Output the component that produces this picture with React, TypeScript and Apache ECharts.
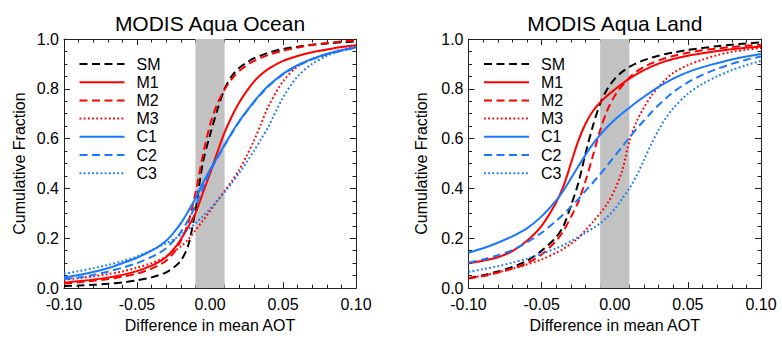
import React, { useEffect, useRef } from "react";
import * as echarts from "echarts";

// x grid (Difference in mean AOT)
const X = [-0.1, -0.09, -0.08, -0.07, -0.06, -0.05, -0.04, -0.035, -0.03, -0.025, -0.02, -0.015, -0.01, -0.005, 0, 0.005, 0.01, 0.015, 0.02, 0.025, 0.03, 0.035, 0.04, 0.05, 0.06, 0.07, 0.08, 0.09, 0.1];

const NAMES = ["SM", "M1", "M2", "M3", "C1", "C2", "C3"];
const TITLES = ["MODIS Aqua Ocean", "MODIS Aqua Land"];
const X_TITLE = "Difference in mean AOT";
const Y_TITLE = "Cumulative Fraction";
const BAND = [-0.01, 0.01];

// Ocean panel cumulative fractions
const oceanSM = [0.008, 0.01, 0.013, 0.017, 0.023, 0.031, 0.043, 0.052, 0.063, 0.082, 0.11, 0.17, 0.31, 0.5, 0.615, 0.715, 0.8, 0.852, 0.884, 0.905, 0.922, 0.934, 0.945, 0.96, 0.969, 0.977, 0.982, 0.987, 0.99];
const oceanM1 = [0.022, 0.028, 0.034, 0.042, 0.053, 0.068, 0.09, 0.105, 0.125, 0.155, 0.195, 0.245, 0.3, 0.38, 0.46, 0.545, 0.625, 0.69, 0.745, 0.79, 0.828, 0.857, 0.88, 0.912, 0.932, 0.947, 0.958, 0.968, 0.975];
const oceanM2 = [0.018, 0.023, 0.029, 0.036, 0.046, 0.058, 0.078, 0.092, 0.11, 0.14, 0.19, 0.26, 0.38, 0.53, 0.655, 0.74, 0.797, 0.84, 0.871, 0.894, 0.911, 0.925, 0.936, 0.953, 0.966, 0.976, 0.984, 0.99, 0.995];
const oceanM3 = [0.034, 0.04, 0.047, 0.056, 0.067, 0.082, 0.1, 0.112, 0.127, 0.145, 0.167, 0.195, 0.232, 0.27, 0.31, 0.35, 0.39, 0.43, 0.475, 0.53, 0.59, 0.66, 0.73, 0.83, 0.89, 0.92, 0.94, 0.957, 0.97];
const oceanC1 = [0.043, 0.053, 0.065, 0.08, 0.1, 0.122, 0.15, 0.168, 0.19, 0.222, 0.26, 0.308, 0.36, 0.42, 0.475, 0.525, 0.575, 0.625, 0.67, 0.71, 0.748, 0.782, 0.812, 0.86, 0.895, 0.92, 0.94, 0.955, 0.967];
const oceanC2 = [0.035, 0.043, 0.053, 0.066, 0.082, 0.1, 0.125, 0.14, 0.16, 0.19, 0.225, 0.272, 0.33, 0.4, 0.468, 0.522, 0.573, 0.622, 0.668, 0.708, 0.746, 0.78, 0.81, 0.858, 0.893, 0.918, 0.938, 0.953, 0.965];
const oceanC3 = [0.058, 0.068, 0.08, 0.093, 0.108, 0.127, 0.152, 0.165, 0.18, 0.195, 0.213, 0.235, 0.26, 0.288, 0.318, 0.35, 0.385, 0.422, 0.462, 0.505, 0.55, 0.598, 0.648, 0.765, 0.85, 0.9, 0.932, 0.953, 0.967];

// Land panel cumulative fractions
const landSM = [0.04, 0.052, 0.067, 0.085, 0.11, 0.15, 0.205, 0.25, 0.33, 0.42, 0.54, 0.65, 0.74, 0.8, 0.84, 0.868, 0.888, 0.903, 0.915, 0.925, 0.933, 0.94, 0.946, 0.956, 0.964, 0.971, 0.977, 0.982, 0.986];
const landM1 = [0.1, 0.11, 0.124, 0.148, 0.19, 0.25, 0.345, 0.41, 0.5, 0.59, 0.66, 0.71, 0.745, 0.773, 0.797, 0.82, 0.841, 0.859, 0.875, 0.889, 0.901, 0.911, 0.92, 0.933, 0.943, 0.952, 0.959, 0.965, 0.97];
const landM2 = [0.038, 0.048, 0.062, 0.078, 0.1, 0.135, 0.19, 0.23, 0.285, 0.345, 0.43, 0.53, 0.633, 0.715, 0.772, 0.812, 0.845, 0.87, 0.888, 0.902, 0.914, 0.924, 0.932, 0.945, 0.955, 0.962, 0.968, 0.973, 0.977];
const landM3 = [0.04, 0.05, 0.063, 0.078, 0.095, 0.115, 0.142, 0.158, 0.178, 0.2, 0.232, 0.265, 0.3, 0.34, 0.395, 0.47, 0.59, 0.67, 0.725, 0.772, 0.808, 0.838, 0.864, 0.895, 0.917, 0.935, 0.948, 0.957, 0.964];
const landC1 = [0.142, 0.16, 0.182, 0.208, 0.24, 0.288, 0.352, 0.392, 0.44, 0.488, 0.535, 0.578, 0.615, 0.648, 0.676, 0.701, 0.724, 0.747, 0.768, 0.789, 0.808, 0.825, 0.841, 0.867, 0.887, 0.903, 0.918, 0.93, 0.94];
const landC2 = [0.102, 0.115, 0.132, 0.153, 0.184, 0.222, 0.27, 0.297, 0.326, 0.357, 0.39, 0.423, 0.457, 0.493, 0.53, 0.567, 0.604, 0.64, 0.673, 0.705, 0.735, 0.762, 0.787, 0.826, 0.856, 0.88, 0.9, 0.917, 0.93];
const landC3 = [0.065, 0.076, 0.088, 0.102, 0.118, 0.138, 0.16, 0.173, 0.188, 0.205, 0.222, 0.24, 0.26, 0.286, 0.318, 0.358, 0.4, 0.452, 0.515, 0.578, 0.635, 0.683, 0.722, 0.78, 0.82, 0.85, 0.875, 0.895, 0.912];

const PANELS = [
  [oceanSM, oceanM1, oceanM2, oceanM3, oceanC1, oceanC2, oceanC3],
  [landSM, landM1, landM2, landM3, landC1, landC2, landC3],
];

const BLACK = "#000000";
const RED = "#ff0000";
const BLUE = "#1a78ff";
const DASH = [8, 4.5];
const DOT = [1.8, 2.4];
const STYLES: Record<string, { color: string; type: any }> = {
  SM: { color: BLACK, type: DASH },
  M1: { color: RED, type: "solid" },
  M2: { color: RED, type: DASH },
  M3: { color: RED, type: DOT },
  C1: { color: BLUE, type: "solid" },
  C2: { color: BLUE, type: DASH },
  C3: { color: BLUE, type: DOT },
};

const FONT = "Liberation Sans, Arial, Helvetica, sans-serif";
const GRIDS = [
  { left: 64, top: 39, width: 292, height: 257 },
  { left: 468.5, top: 39, width: 292.5, height: 257 },
];
const AXIS_COLOR = "#222";

export default function App() {
  const ref = useRef<HTMLDivElement>(null);
  useEffect(() => {
    if (!ref.current) return;
    const chart = echarts.init(ref.current, undefined, { renderer: "svg" });

    const xAxis: any[] = [];
    const yAxis: any[] = [];
    const series: any[] = [];
    const legend: any[] = [];
    const title: any[] = [];

    GRIDS.forEach((g, p) => {
      const common = {
        gridIndex: p,
        axisLine: { show: true, onZero: false, lineStyle: { color: AXIS_COLOR, width: 1 } },
        axisTick: { show: true, inside: true, length: 6, lineStyle: { color: AXIS_COLOR } },
        minorTick: { show: true, length: 3.5, lineStyle: { color: AXIS_COLOR } },
        splitLine: { show: false },
        minorSplitLine: { show: false },
      };
      xAxis.push({
        ...common,
        type: "value",
        position: "bottom",
        min: -0.1,
        max: 0.1,
        interval: 0.05,
        minorTick: { ...common.minorTick, splitNumber: 5 },
        axisLabel: {
          show: true,
          margin: 8,
          fontSize: 16,
          fontFamily: FONT,
          color: "#000",
          formatter: (v: number) => v.toFixed(2),
        },
        name: X_TITLE,
        nameLocation: "middle",
        nameGap: 25,
        nameTextStyle: { fontSize: 16, fontFamily: FONT, color: "#000" },
      });
      xAxis.push({
        ...common,
        type: "value",
        position: "top",
        min: -0.1,
        max: 0.1,
        interval: 0.05,
        minorTick: { ...common.minorTick, splitNumber: 5 },
        axisLabel: { show: false },
      });
      yAxis.push({
        ...common,
        type: "value",
        position: "left",
        min: 0,
        max: 1,
        interval: 0.2,
        minorTick: { ...common.minorTick, splitNumber: 4 },
        axisLabel: {
          show: true,
          margin: 5,
          fontSize: 16,
          fontFamily: FONT,
          color: "#000",
          formatter: (v: number) => v.toFixed(1),
        },
        name: Y_TITLE,
        nameLocation: "middle",
        nameGap: p === 0 ? 37 : 39,
        nameTextStyle: { fontSize: 16, fontFamily: FONT, color: "#000" },
      });
      yAxis.push({
        ...common,
        type: "value",
        position: "right",
        min: 0,
        max: 1,
        interval: 0.2,
        minorTick: { ...common.minorTick, splitNumber: 4 },
        axisLabel: { show: false },
      });

      // shaded band
      series.push({
        type: "line",
        name: "band" + p,
        xAxisIndex: p * 2,
        yAxisIndex: p * 2,
        data: [],
        silent: true,
        z: 1,
        markArea: {
          silent: true,
          itemStyle: { color: "#c2c2c2" },
          data: [[{ xAxis: BAND[0] }, { xAxis: BAND[1] }]],
        },
      });

      NAMES.forEach((n, k) => {
        const vals = PANELS[p][k];
        series.push({
          type: "line",
          name: n,
          xAxisIndex: p * 2,
          yAxisIndex: p * 2,
          data: X.map((x, i) => [x, vals[i]]),
          symbol: "none",
          showSymbol: false,
          smooth: 0.3,
          z: 3,
          lineStyle: { color: STYLES[n].color, width: 2, type: STYLES[n].type },
          itemStyle: { color: STYLES[n].color },
        });
      });

      legend.push({
        show: true,
        orient: "vertical",
        left: g.left + 14.5,
        top: 56,
        padding: 0,
        itemWidth: 45,
        itemHeight: 14,
        itemGap: 2.2,
        selectedMode: false,
        data: NAMES,
        itemStyle: { opacity: 0 },
        textStyle: {
          fontSize: 16,
          lineHeight: 14,
          fontFamily: FONT,
          color: "#000",
          padding: [0, 0, 0, 7],
        },
      });

      title.push({
        text: TITLES[p],
        left: g.left + g.width / 2,
        textAlign: "center",
        top: 13,
        padding: 0,
        textStyle: { fontSize: 21, fontWeight: "normal", fontFamily: FONT, color: "#000" },
      });
    });

    chart.setOption({
      animation: false,
      backgroundColor: "#ffffff",
      title,
      legend,
      grid: GRIDS.map((g) => ({ ...g, containLabel: false })),
      xAxis,
      yAxis,
      series,
    });
    return () => chart.dispose();
  }, []);

  return (
    <div
      ref={ref}
      style={{ position: "absolute", left: 0, top: 0, width: 782, height: 338, background: "#fff" }}
    />
  );
}
